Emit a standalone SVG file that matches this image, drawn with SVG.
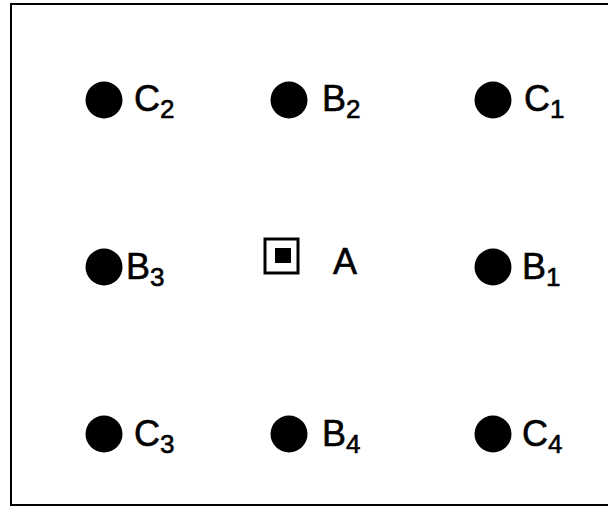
<svg xmlns="http://www.w3.org/2000/svg" width="608" height="508" viewBox="0 0 608 508">
<style>
.dot{fill:#000}
.lbl{font-family:"Liberation Sans",Arial,sans-serif;font-size:36px;fill:#000;stroke:#000;stroke-width:0.6}
.sub{font-size:26px}
.frame{fill:none;stroke:#000;stroke-width:2}
</style>
<rect width="608" height="508" fill="#fff"/>
<path class="frame" d="M608,4 H11 V505 H608"/>
<g id="C2"><circle class="dot" cx="104" cy="100" r="18.5"/><text class="lbl" x="134" y="111">C<tspan class="sub" dy="7">2</tspan></text></g>
<g id="B2"><circle class="dot" cx="289" cy="100" r="18.5"/><text class="lbl" x="322" y="111">B<tspan class="sub" dy="7">2</tspan></text></g>
<g id="C1"><circle class="dot" cx="493" cy="100" r="18.5"/><text class="lbl" x="524" y="111">C<tspan class="sub" dy="7">1</tspan></text></g>
<g id="B3"><circle class="dot" cx="104" cy="267" r="18.5"/><text class="lbl" x="126" y="279">B<tspan class="sub" dy="7">3</tspan></text></g>
<g id="A"><rect x="265" y="239" width="33" height="34" fill="none" stroke="#000" stroke-width="3"/><rect x="275" y="248" width="16" height="15" fill="#000"/><text class="lbl" x="333" y="274">A</text></g>
<g id="B1"><circle class="dot" cx="493" cy="267" r="18.5"/><text class="lbl" x="522" y="279">B<tspan class="sub" dy="7">1</tspan></text></g>
<g id="C3"><circle class="dot" cx="104" cy="434" r="18.5"/><text class="lbl" x="134" y="446">C<tspan class="sub" dy="7">3</tspan></text></g>
<g id="B4"><circle class="dot" cx="289" cy="434" r="18.5"/><text class="lbl" x="322" y="446">B<tspan class="sub" dy="7">4</tspan></text></g>
<g id="C4"><circle class="dot" cx="493" cy="434" r="18.5"/><text class="lbl" x="522" y="446">C<tspan class="sub" dy="7">4</tspan></text></g>
<g id="connectors"></g>
</svg>
